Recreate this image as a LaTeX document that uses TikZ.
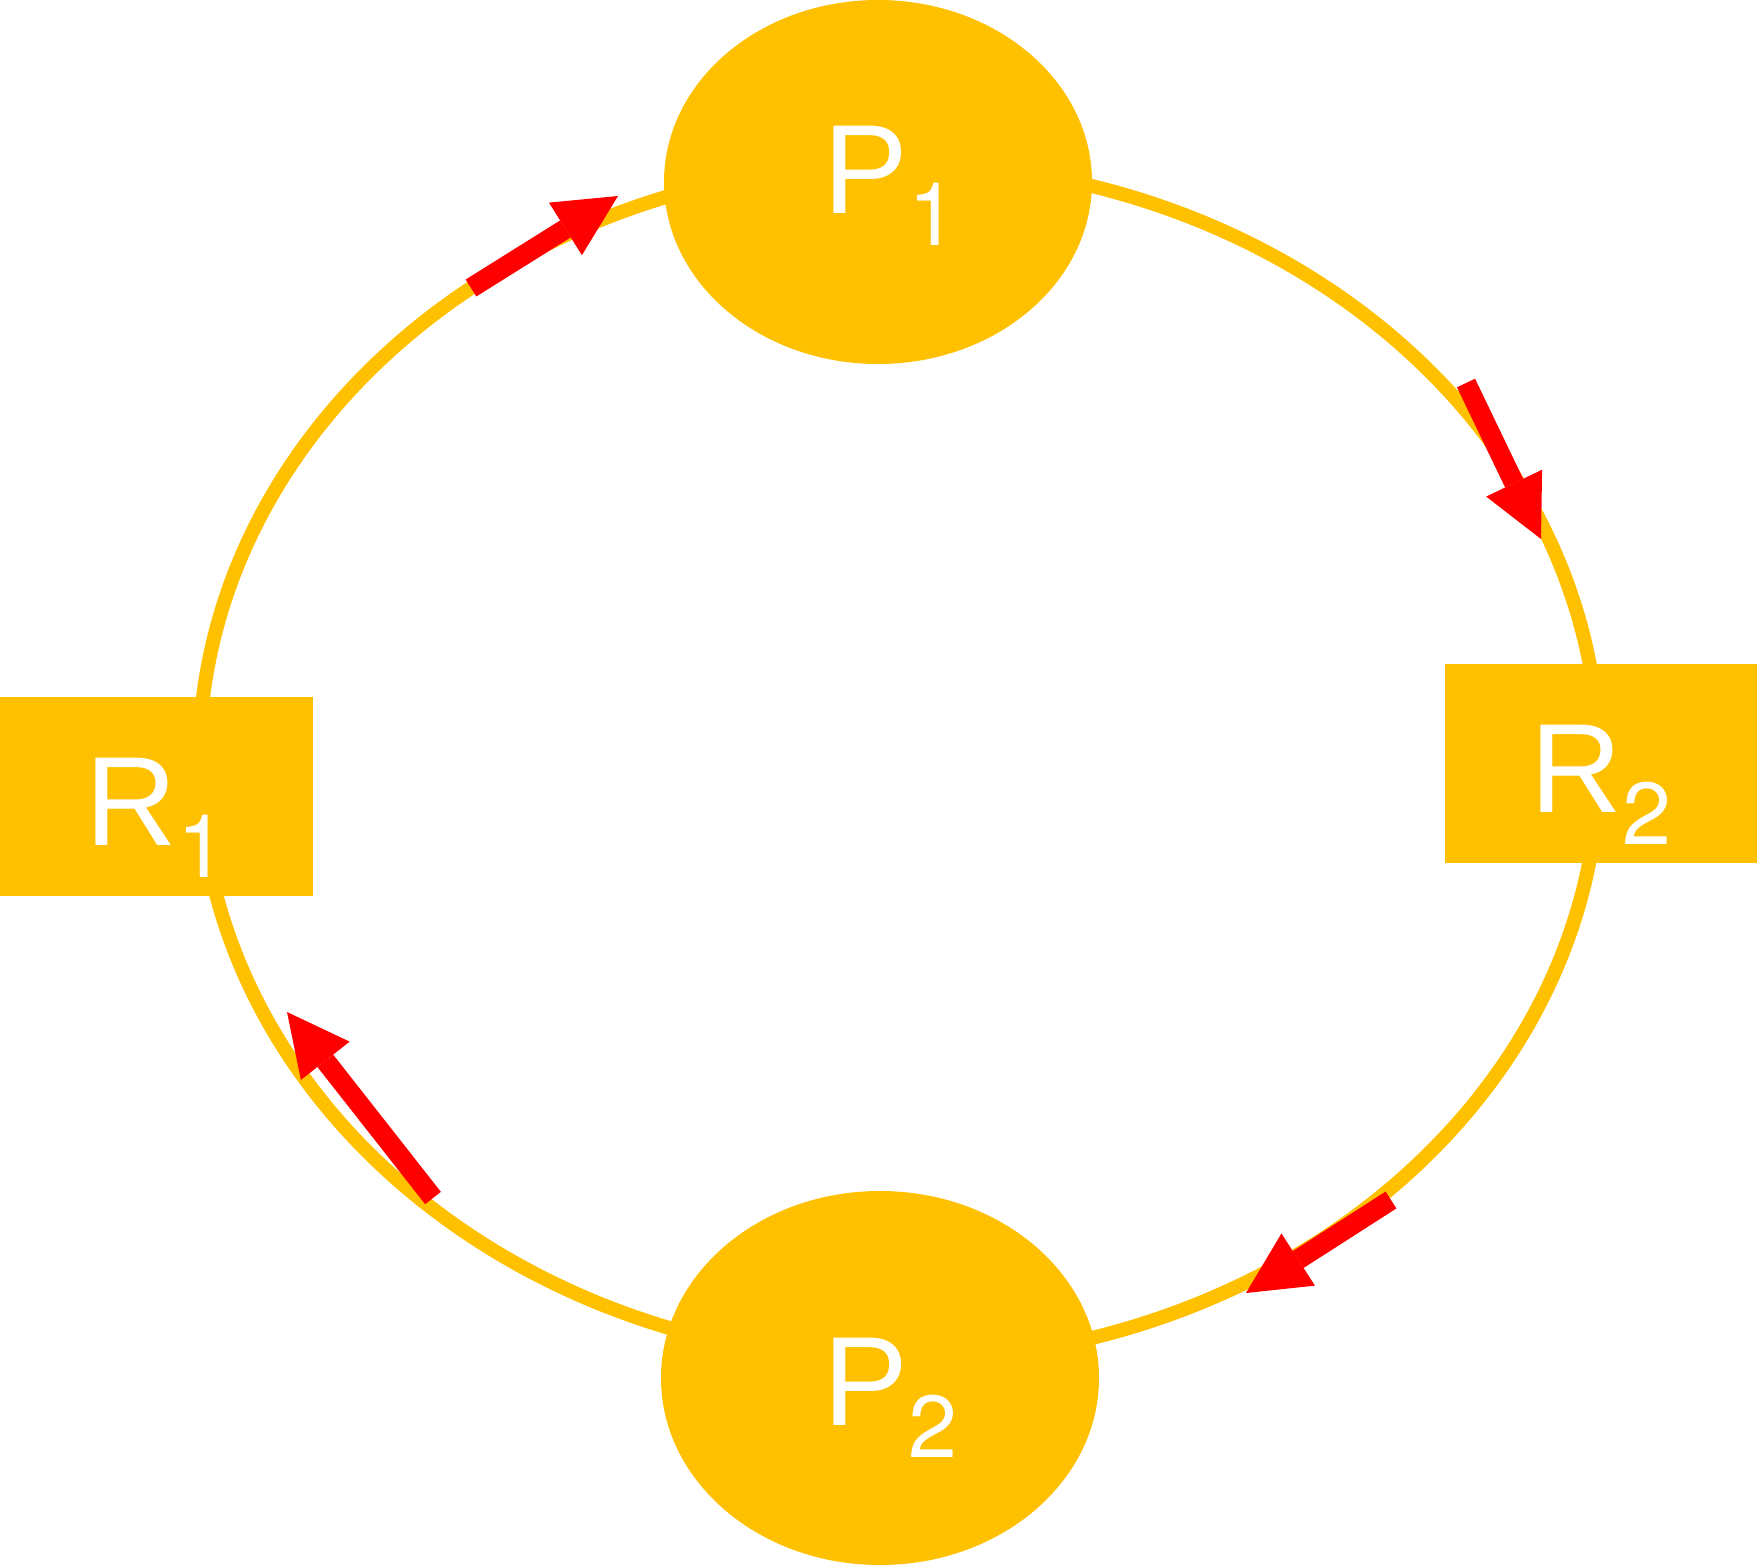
\documentclass[tikz,border=0pt]{standalone}
\usepackage{fontspec}
\setmainfont{Liberation Sans}
\newfontfamily\subfont{TeX Gyre Heros}
\usetikzlibrary{arrows.meta,shapes.geometric}
\definecolor{gold}{HTML}{FFC000}
\definecolor{redc}{HTML}{FF0000}
\newcommand{\lbl}[2]{\fontsize{63.5}{70}\selectfont #1\raisebox{-16pt}{\subfont\fontsize{44}{48}\selectfont #2}}
\tikzset{
  ring/.style={draw=gold, line width=7pt},
  blob/.style={ellipse, fill=gold, draw=none, inner sep=0pt},
  box/.style={rectangle, fill=gold, draw=none, inner sep=0pt},
  lab/.style={anchor=base west, inner sep=0pt, text=white},
  redarrow/.style={draw=redc, line width=10pt, line cap=butt,
    -{Triangle[length=31pt,width=31pt,line width=0pt,color=redc]}}
}
\begin{document}
\begin{tikzpicture}[x=0.5pt,y=-0.5pt]
\useasboundingbox (0,0) rectangle (1757,1565);
\draw[ring] (899,762) ellipse [x radius=700, y radius=599];
\node[blob, minimum width=214pt, minimum height=182pt] (P1) at (878,182) {};
\node[blob, minimum width=219pt, minimum height=187pt] (P2) at (880,1378) {};
\node[box, minimum width=156.5pt, minimum height=99.5pt] (R1) at (156.5,796.5) {};
\node[box, minimum width=156pt, minimum height=99.5pt] (R2) at (1601,763.5) {};
\node[lab] (lP1) at (823,213) {\lbl{P}{1}};
\node[lab] (lP2) at (823,1425) {\lbl{P}{2}};
\node[lab] (lR1) at (85,845) {\lbl{R}{1}};
\node[lab] (lR2) at (1530,812) {\lbl{R}{2}};
\coordinate (a1s) at (471,288);  \coordinate (a1e) at (618,196);
\coordinate (a2s) at (1466,383); \coordinate (a2e) at (1541,539);
\coordinate (a3s) at (1391,1200); \coordinate (a3e) at (1246,1293);
\coordinate (a4s) at (433,1198); \coordinate (a4e) at (287,1012);
\draw[redarrow] (a1s) -- (a1e);
\draw[redarrow] (a2s) -- (a2e);
\draw[redarrow] (a3s) -- (a3e);
\draw[redarrow] (a4s) -- (a4e);
\end{tikzpicture}
\end{document}
